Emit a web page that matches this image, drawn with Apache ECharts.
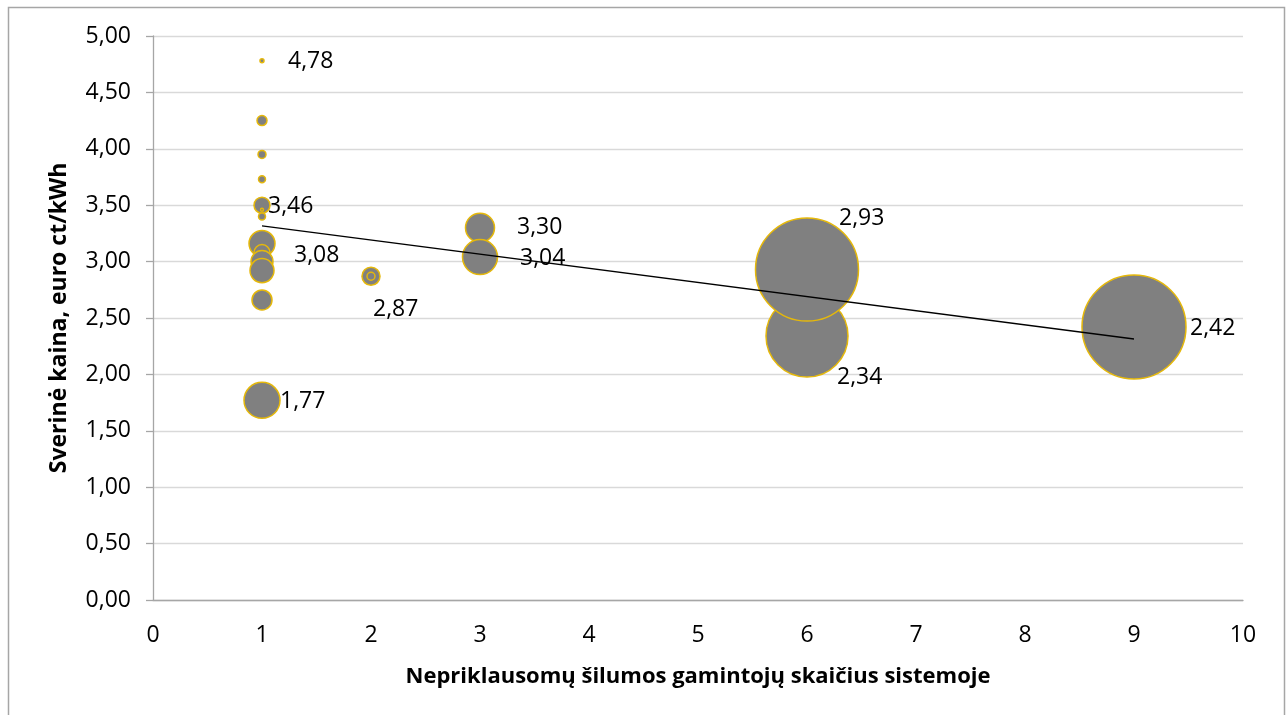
<!DOCTYPE html>
<html>
<head>
<meta charset="utf-8">
<script src="https://cdn.jsdelivr.net/npm/echarts@6/dist/echarts.min.js"></script>
<style>
  html, body { margin: 0; padding: 0; background: #fff; }
  #chart { width: 1288px; height: 715px; }
</style>
</head>
<body>
<div id="chart"></div>
<script>
// Number of independent heat producers in the system (x)
const producers = [1, 1, 1, 1, 1, 1, 1, 1, 1, 1, 1, 1, 1, 2, 2, 3, 3, 6, 6, 9];
// Weighted price, euro ct/kWh (y)
const prices = [4.78, 4.25, 3.95, 3.73, 3.50, 3.46, 3.40, 3.16, 3.08, 3.00, 2.92, 2.66, 1.77, 2.87, 2.87, 3.30, 3.04, 2.34, 2.93, 2.42];
// Bubble weight (relative system size)
const weights = [0.15, 0.92, 0.59, 0.45, 2.37, 0.08, 0.45, 6.25, 2.37, 4.47, 5.33, 3.70, 11.98, 3.0, 0.59, 7.78, 11.33, 62.2, 98.1, 100];
// Which points carry a data label
const labelled = [true, false, false, false, false, true, false, false, true, false, false, false, true, true, false, true, true, true, true, true];
// Trend line end points
const trendX = [1, 9];
const trendY = [3.316, 2.314];
// Y tick labels
const yTicks = ['0,00','0,50','1,00','1,50','2,00','2,50','3,00','3,50','4,00','4,50','5,00'];

// label offsets (style only)
const labelOffsets = [
  [26, 1], [0,0], [0,0], [0,0], [0,0], [6, -3], [0,0], [0,0], [32, 3], [0,0], [0,0], [0,0], [18, 1],
  [2, 33], [0,0], [37, 0], [40, 1], [30, 41], [32, -51], [56, 1]
];

const FONT = 'Open Sans';
const data = producers.map((x, i) => ({
  value: [x, prices[i], weights[i]],
  label: {
    show: labelled[i],
    position: 'inside',
    align: 'left',
    verticalAlign: 'middle',
    offset: labelOffsets[i],
    formatter: () => prices[i].toFixed(2).replace('.', ','),
    color: '#000',
    fontFamily: FONT,
    fontSize: 23
  }
}));

const chart = echarts.init(document.getElementById('chart'), null, { renderer: 'canvas' });
chart.setOption({
  backgroundColor: '#fff',
  animation: false,
  graphic: [{
    type: 'rect',
    shape: { x: 8.5, y: 7.5, width: 1276, height: 760 },
    style: { fill: 'none', stroke: '#a6a6a6', lineWidth: 1.5 },
    silent: true, z: -10
  }],
  grid: { left: 153, right: 45, top: 36, bottom: 115 },
  xAxis: {
    type: 'value', min: 0, max: 10, interval: 1,
    name: 'Nepriklausomų šilumos gamintojų skaičius sistemoje',
    nameLocation: 'middle', nameGap: 66,
    nameTextStyle: { fontFamily: FONT, fontWeight: 'bold', fontSize: 22, color: '#000' },
    axisLine: { show: true, lineStyle: { color: '#a6a6a6', width: 1.3 } },
    axisTick: { show: false },
    splitLine: { show: false },
    axisLabel: { fontFamily: FONT, fontSize: 23, color: '#000', margin: 24 }
  },
  yAxis: {
    type: 'value', min: 0, max: 5, interval: 0.5,
    name: 'Sverinė kaina, euro ct/kWh',
    nameLocation: 'middle', nameGap: 82, nameRotate: 90,
    nameTextStyle: { fontFamily: FONT, fontWeight: 'bold', fontSize: 23, color: '#000' },
    axisLine: { show: true, lineStyle: { color: '#a6a6a6', width: 1.3 } },
    axisTick: { show: true, inside: false, length: 7, lineStyle: { color: '#a6a6a6', width: 1.3 } },
    splitLine: { show: true, lineStyle: { color: '#d9d9d9', width: 1.3 } },
    axisLabel: {
      fontFamily: FONT, fontSize: 23, color: '#000', margin: 22,
      formatter: (v) => yTicks[Math.round(v / 0.5)]
    }
  },
  series: [{
    type: 'scatter',
    data: data,
    symbolSize: (val) => 10.4 * Math.sqrt(val[2]),
    itemStyle: { color: '#808080', borderColor: '#e5b80b', borderWidth: 1.5, opacity: 1 },
    z: 2
  }, {
    type: 'line',
    data: trendX.map((x, i) => [x, trendY[i]]),
    symbol: 'none',
    lineStyle: { color: '#000', width: 1.3 },
    z: 5,
    silent: true
  }]
});
</script>
</body>
</html>
